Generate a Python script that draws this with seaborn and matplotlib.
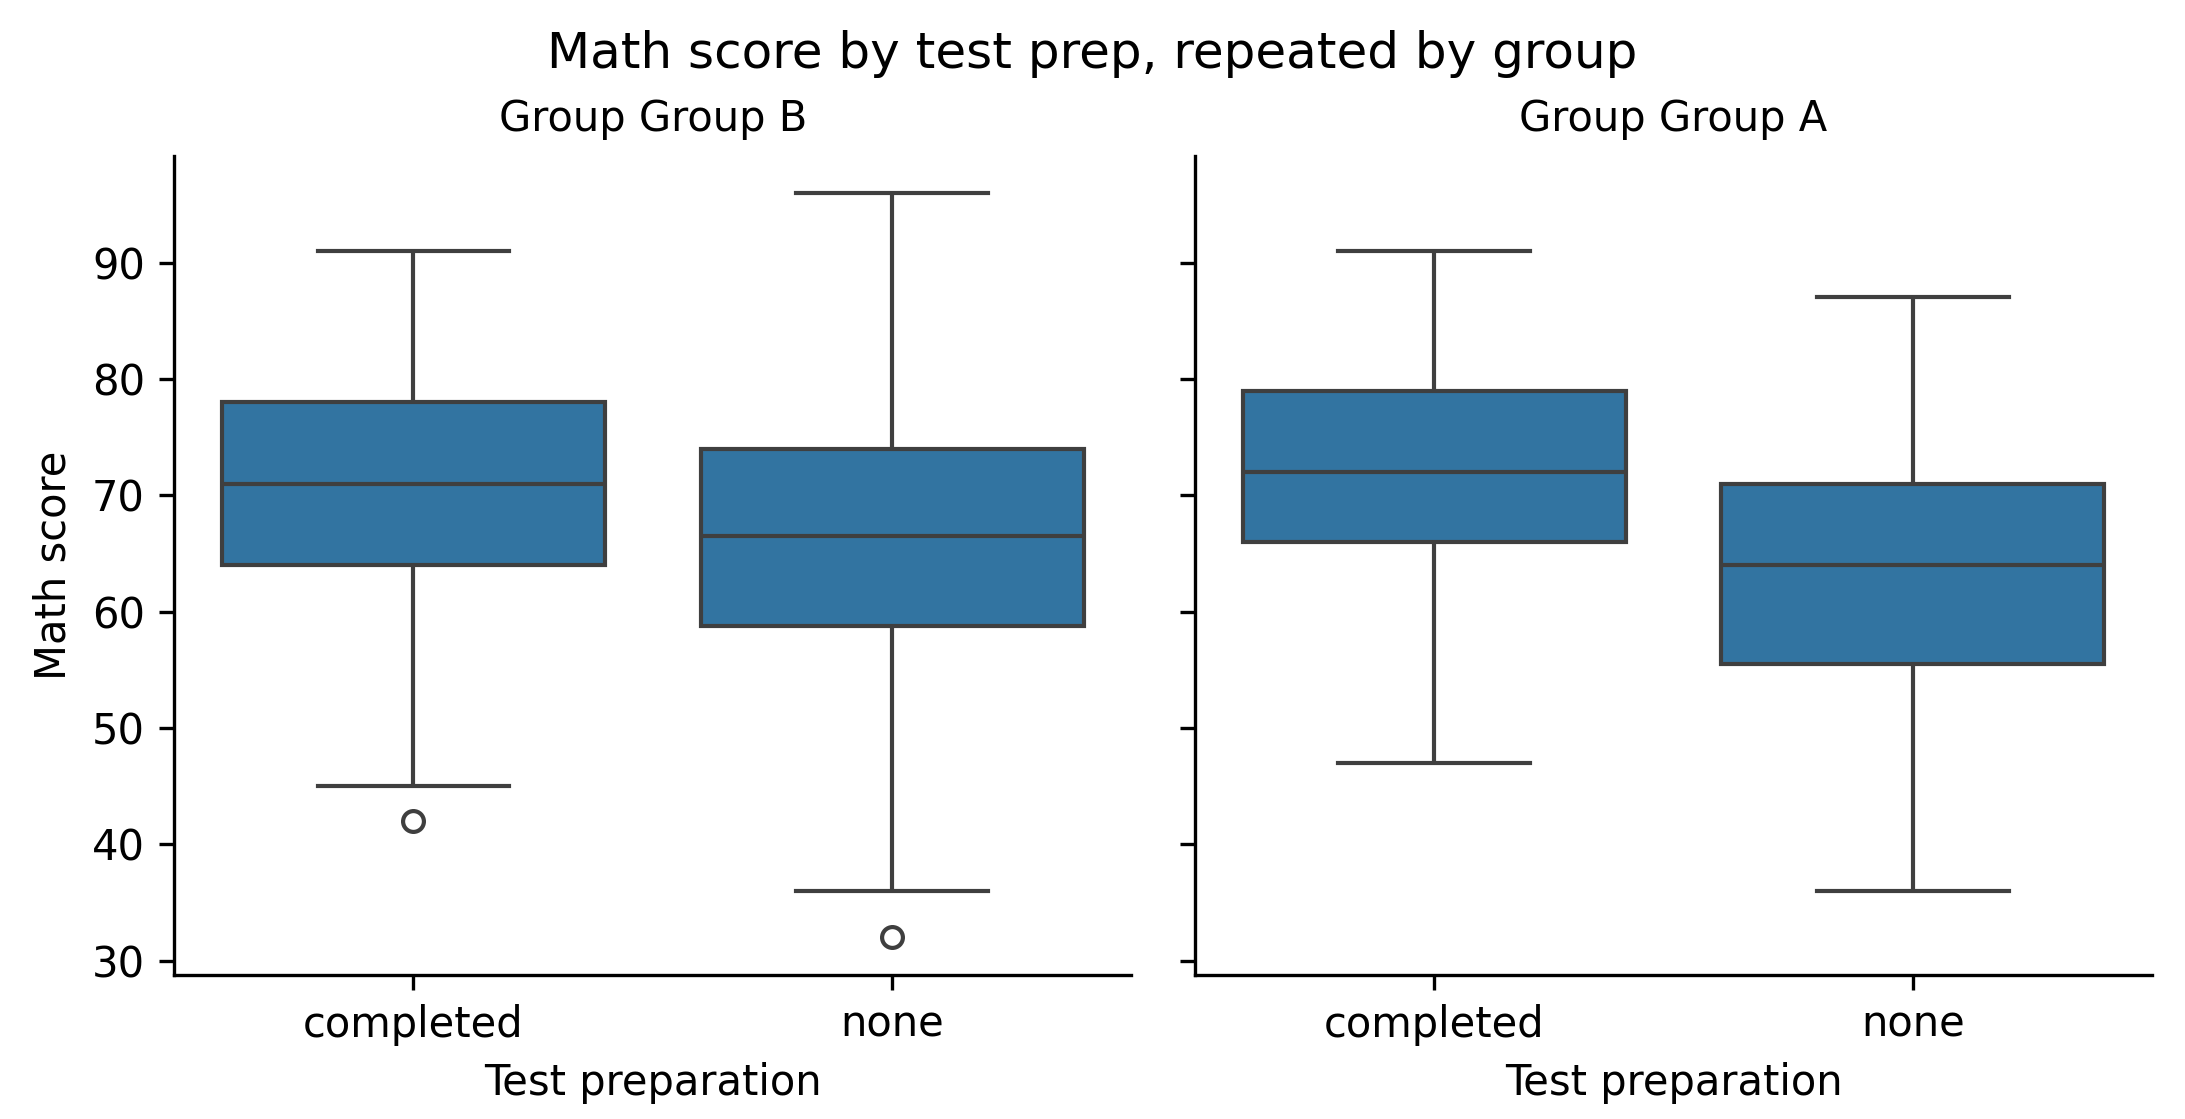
import numpy as np
import pandas as pd
import matplotlib
matplotlib.use("Agg")
import matplotlib.pyplot as plt
import seaborn as sns

# raw scores per facet / prep level (chosen so the box stats match the picture)
B_COMPLETED = [42, 45, 64, 68, 71, 74, 78, 85, 91]
B_NONE      = [32, 36, 58, 61, 66, 67, 74, 74, 85, 96]
A_COMPLETED = [47, 55, 66, 70, 72, 75, 79, 85, 91]
A_NONE      = [36, 50, 55.5, 60, 64, 68, 71, 80, 87]

GROUP_ORDER = ["Group B", "Group A"]
PREP_ORDER  = ["completed", "none"]

rows = []
for grp, prep, vals in [("Group B", "completed", B_COMPLETED),
                        ("Group B", "none", B_NONE),
                        ("Group A", "completed", A_COMPLETED),
                        ("Group A", "none", A_NONE)]:
    for v in vals:
        rows.append({"group": grp, "test_prep": prep, "math_score": v})
df = pd.DataFrame(rows)

DPI = 300
g = sns.catplot(data=df, x="test_prep", y="math_score", col="group",
                col_order=GROUP_ORDER, order=PREP_ORDER, kind="box",
                height=3.5, aspect=1.0)
g.set_axis_labels("Test preparation", "Math score")
g.set_titles("Group {col_name}")
g.figure.suptitle("Math score by test prep, repeated by group", fontsize=12, y=0.973)
g.figure.set_size_inches(2185 / DPI, 1119 / DPI)
g.figure.subplots_adjust(left=0.0796, right=0.985, bottom=0.129, top=0.861, wspace=0.066)

g.figure.savefig("out.png", dpi=DPI)
